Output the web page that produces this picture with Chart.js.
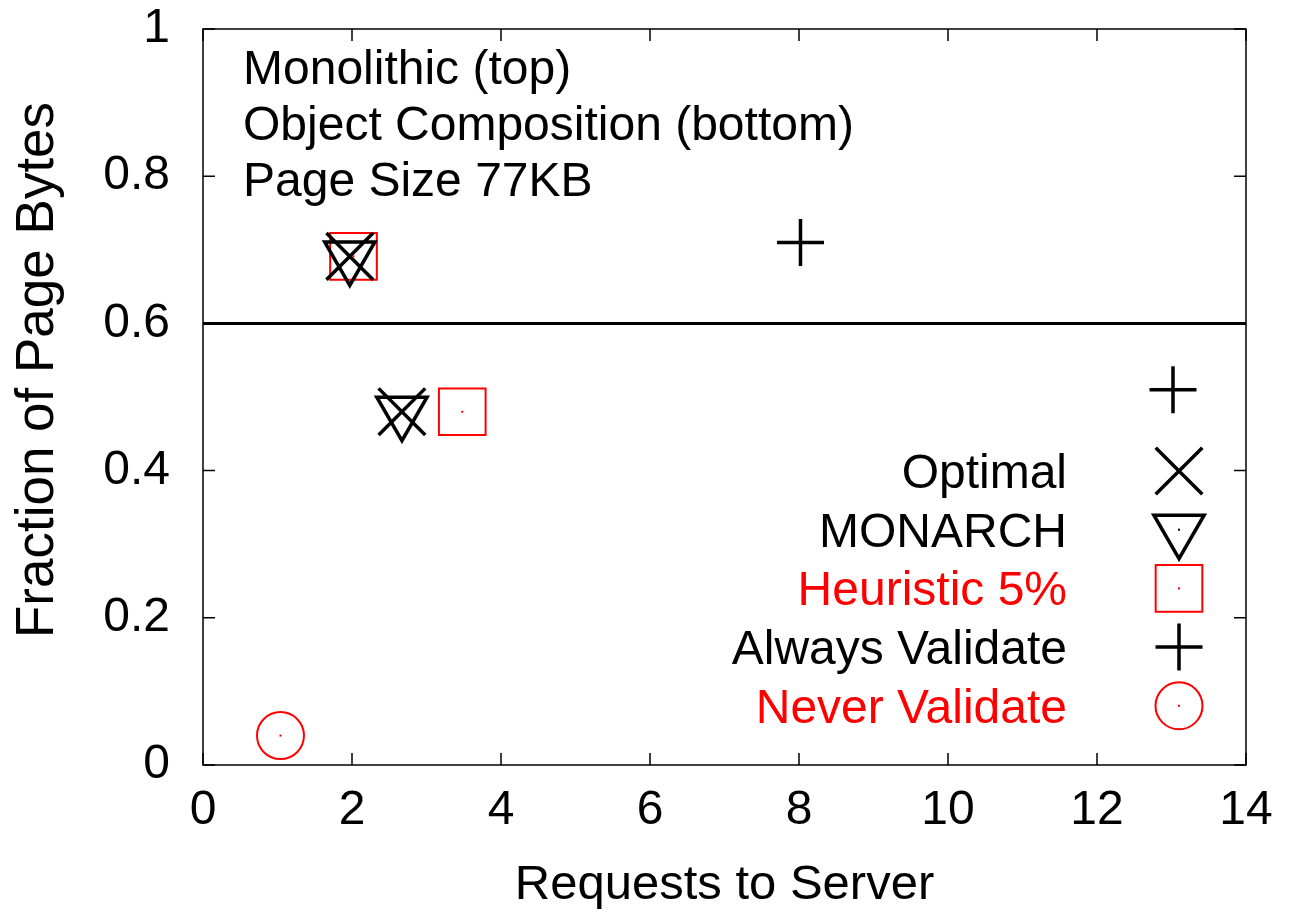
<!DOCTYPE html>
<html>
<head>
<meta charset="utf-8">
<script src="https://cdn.jsdelivr.net/npm/chart.js@4/dist/chart.umd.min.js"></script>
<style>
  html, body { margin: 0; padding: 0; background: #fff; }
  #wrap { width: 1289px; height: 917px; }
</style>
</head>
<body>
<div id="wrap"><canvas id="chart" width="1289" height="917"></canvas></div>
<script>
// values (top cluster = monolithic, bottom = object composition)
const optimalX = [1.97, 2.67];
const optimalY = [0.691, 0.48];
const monarchX = [1.97, 2.67];
const monarchY = [0.691, 0.48];
const heuristicX = [2.02, 3.48];
const heuristicY = [0.691, 0.48];
const alwaysX = [8.02, 13.02];
const alwaysY = [0.71, 0.51];
const neverX = [1.04];
const neverY = [0.04];

const separatorY = 0.6;
const notes = ['Monolithic (top)', 'Object Composition (bottom)', 'Page Size 77KB'];
const yTitle = 'Fraction of Page Bytes';

const FONT = '"Liberation Sans", Arial, Helvetica, sans-serif';
const FS = 48;
const RED = '#ff0000';

Chart.defaults.font.family = FONT;
Chart.defaults.font.size = FS;
Chart.defaults.color = '#000';

const pts = (xs, ys) => xs.map((x, i) => ({ x: x, y: ys[i] }));

// frame + gnuplot style inward ticks on all four sides
const framePlugin = {
    id: 'frame',
    afterDatasetsDraw(chart) {
        const { ctx, chartArea: a, scales } = chart;
        ctx.save();
        ctx.strokeStyle = '#000';
        ctx.lineWidth = 1.5;
        ctx.strokeRect(a.left, a.top, a.right - a.left, a.bottom - a.top);
        const len = 12;
        ctx.beginPath();
        scales.x.ticks.forEach(t => {
            const px = scales.x.getPixelForValue(t.value);
            ctx.moveTo(px, a.bottom); ctx.lineTo(px, a.bottom - len);
            ctx.moveTo(px, a.top); ctx.lineTo(px, a.top + len);
        });
        scales.y.ticks.forEach(t => {
            const py = scales.y.getPixelForValue(t.value);
            ctx.moveTo(a.left, py); ctx.lineTo(a.left + len, py);
            ctx.moveTo(a.right, py); ctx.lineTo(a.right - len, py);
        });
        ctx.stroke();

        // tiny centre dots like the gnuplot symbols
        chart.data.datasets.forEach((ds, i) => {
            if (!ds.centerDot) return;
            chart.getDatasetMeta(i).data.forEach(el => {
                ctx.fillStyle = ds.borderColor;
                ctx.fillRect(el.x - 1, el.y - 1, 2, 2);
            });
        });

        // text block top left
        ctx.font = FS + 'px ' + FONT;
        ctx.fillStyle = '#000';
        ctx.textAlign = 'left';
        ctx.textBaseline = 'alphabetic';
        notes.forEach((s, i) => ctx.fillText(s, 243, 84 + i * 56));

        // y axis title (gnuplot puts it a little above centre)
        ctx.translate(38, 370);
        ctx.rotate(-Math.PI / 2);
        ctx.font = '53px ' + FONT;
        ctx.textAlign = 'center';
        ctx.textBaseline = 'middle';
        ctx.fillText(yTitle, 0, 0);
        ctx.restore();
    }
};

// legend: right-aligned label, symbol on the right
const keyPlugin = {
    id: 'key',
    afterDraw(chart) {
        const { ctx } = chart;
        const items = chart.data.datasets.filter(ds => ds.label);
        ctx.save();
        ctx.font = FS + 'px ' + FONT;
        ctx.textAlign = 'right';
        ctx.textBaseline = 'alphabetic';
        items.forEach((ds, i) => {
            const y = 471 + i * 58.7;
            ctx.fillStyle = ds.borderColor;
            ctx.fillText(ds.label, 1067, y + 17);
            ctx.strokeStyle = ds.borderColor;
            ctx.fillStyle = 'rgba(0,0,0,0)';
            ctx.lineWidth = ds.borderWidth;
            Chart.helpers.drawPoint(ctx, {
                pointStyle: ds.pointStyle,
                rotation: ds.rotation || 0,
                radius: ds.pointRadius,
                borderWidth: ds.borderWidth
            }, 1179, y);
            if (ds.centerDot || ds.label === 'MONARCH') {
                ctx.fillStyle = ds.borderColor;
                ctx.fillRect(1178, y - 1, 2, 2);
            }
        });
        ctx.restore();
    }
};

new Chart(document.getElementById('chart'), {
    type: 'scatter',
    data: {
        datasets: [
            {
                label: 'Optimal',
                data: pts(optimalX, optimalY),
                pointStyle: 'crossRot',
                pointRadius: 33,
                borderWidth: 3.5,
                borderColor: '#000',
                backgroundColor: 'rgba(0,0,0,0)'
            },
            {
                label: 'MONARCH',
                data: pts(monarchX, monarchY),
                pointStyle: 'triangle',
                rotation: 180,
                pointRotation: 180,
                pointRadius: 29,
                borderWidth: 3.5,
                borderColor: '#000',
                backgroundColor: 'rgba(0,0,0,0)'
            },
            {
                label: 'Heuristic 5%',
                data: pts(heuristicX, heuristicY),
                pointStyle: 'rect',
                pointRadius: 33,
                borderWidth: 2,
                borderColor: RED,
                backgroundColor: 'rgba(0,0,0,0)',
                centerDot: true
            },
            {
                label: 'Always Validate',
                data: pts(alwaysX, alwaysY),
                pointStyle: 'cross',
                pointRadius: 23.5,
                borderWidth: 3.5,
                borderColor: '#000',
                backgroundColor: 'rgba(0,0,0,0)'
            },
            {
                label: 'Never Validate',
                data: pts(neverX, neverY),
                pointStyle: 'circle',
                pointRadius: 23.5,
                borderWidth: 2,
                borderColor: RED,
                backgroundColor: 'rgba(0,0,0,0)',
                centerDot: true
            },
            {
                type: 'line',
                data: [{ x: 0, y: separatorY }, { x: 14, y: separatorY }],
                borderColor: '#000',
                borderWidth: 3,
                pointRadius: 0,
                fill: false
            }
        ]
    },
    options: {
        responsive: false,
        animation: false,
        events: [],
        layout: { padding: { left: 0, top: 29, right: 43, bottom: 0 }, autoPadding: false },
        scales: {
            x: {
                type: 'linear',
                min: 0,
                max: 14,
                afterFit: s => { s.height = 152; s.paddingLeft = 0; s.paddingRight = 0; },
                grid: { display: false, drawTicks: false },
                border: { display: false },
                ticks: { stepSize: 2, padding: 17, color: '#000', font: { size: FS } },
                title: { display: true, text: 'Requests to Server', color: '#000', font: { size: 49 }, padding: { top: 0, bottom: 2 } }
            },
            y: {
                type: 'linear',
                min: 0,
                max: 1,
                afterFit: s => { s.width = 203; s.paddingTop = 0; s.paddingBottom = 0; },
                grid: { display: false, drawTicks: false },
                border: { display: false },
                ticks: { stepSize: 0.2, padding: 33, color: '#000', font: { size: FS }, callback: v => String(+v.toFixed(1)) },
                title: { display: false }
            }
        },
        plugins: {
            legend: { display: false },
            tooltip: { enabled: false }
        }
    },
    plugins: [framePlugin, keyPlugin]
});
</script>
</body>
</html>
